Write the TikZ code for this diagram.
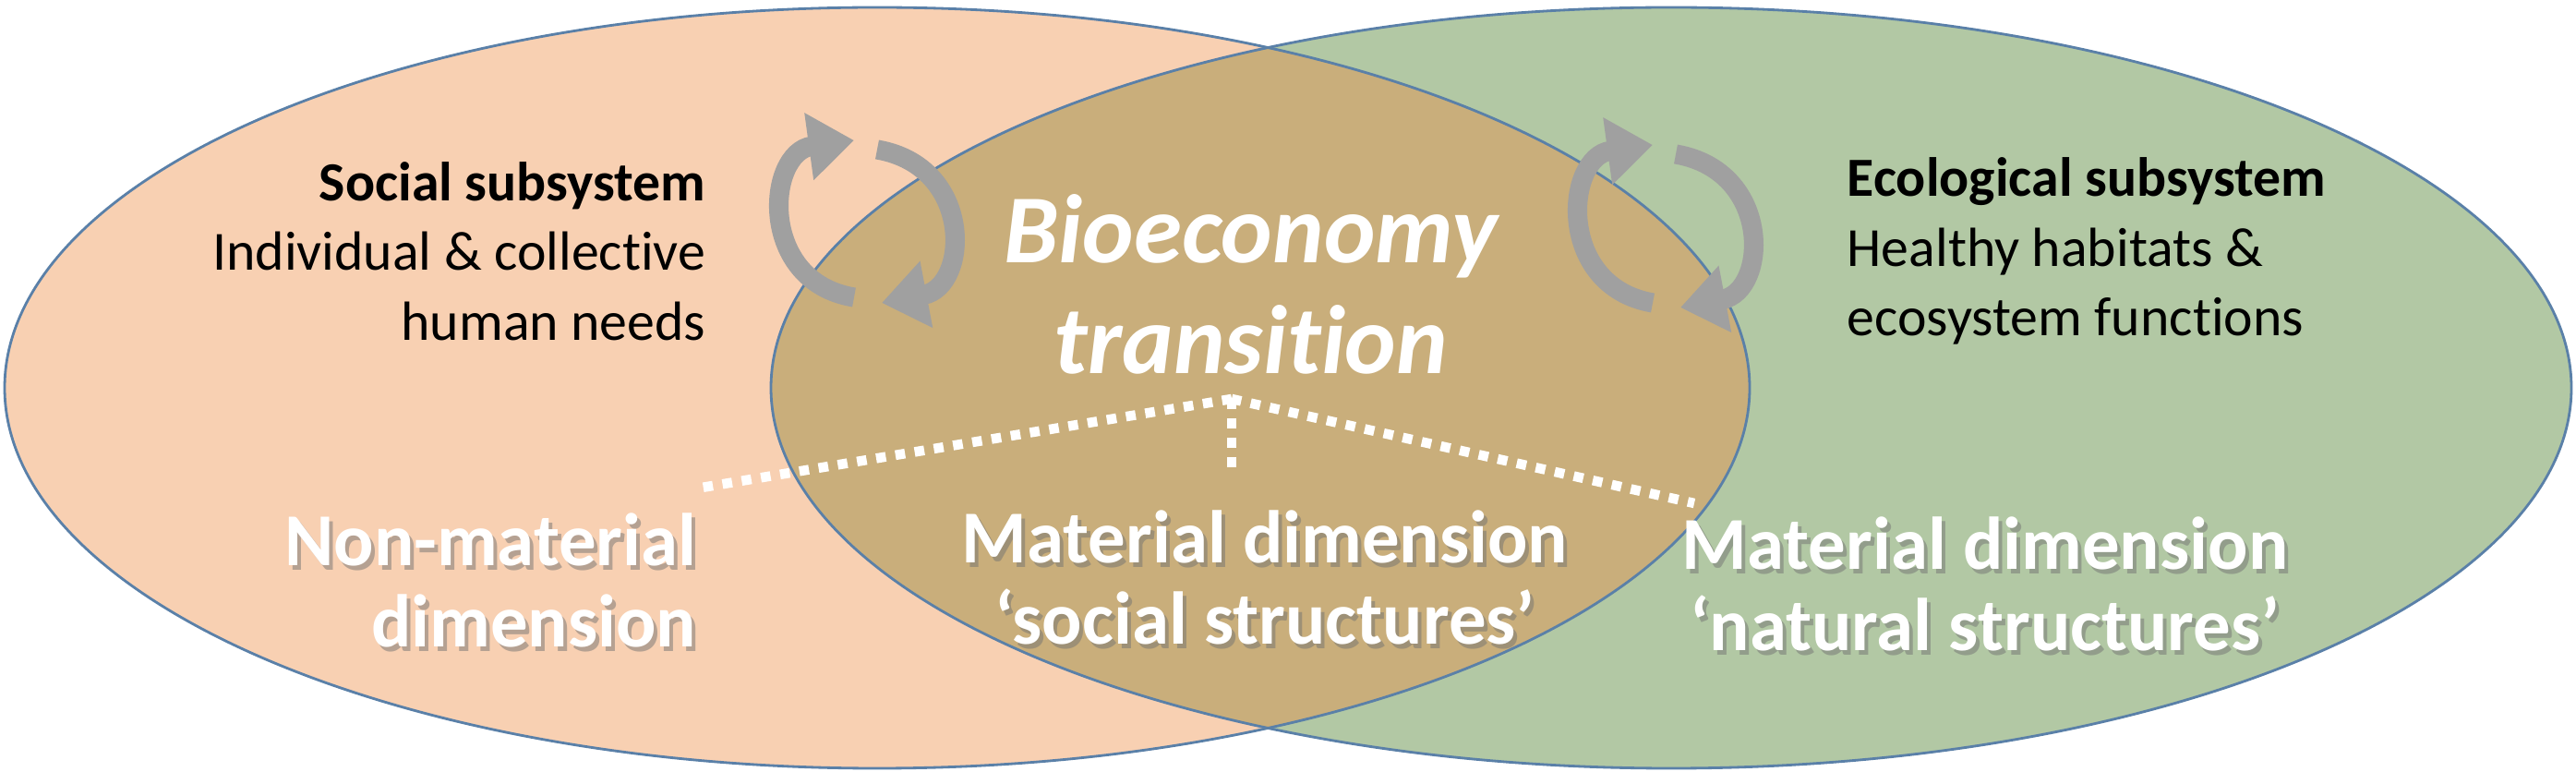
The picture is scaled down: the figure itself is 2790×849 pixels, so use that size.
\documentclass[tikz,border=0pt]{standalone}
\usepackage{fontspec}
\setmainfont{Carlito}[Ligatures=NoCommon]
\usetikzlibrary{arrows.meta}
\definecolor{lfill}{HTML}{F8D0B2}
\definecolor{rfill}{HTML}{B2C8A4}
\definecolor{mfill}{HTML}{C9AE7B}
\definecolor{edge}{HTML}{5A80A8}
\definecolor{arr}{HTML}{A0A0A0}
\tikzset{
  blk/.style={font=\fontsize{17}{21.5}\selectfont, text=black, inner sep=0pt},
  wht/.style={font=\fontsize{23}{25}\selectfont\bfseries, text=white, inner sep=0pt, align=center},
  shd/.style={font=\fontsize{23}{25}\selectfont\bfseries, text=black!55, opacity=0.5, inner sep=0pt, align=center},
  dots/.style={white, line width=3pt, dash pattern=on 3pt off 3pt},
  cyc/.style={arr, line width=6pt, -{Triangle[length=14pt,width=20pt]}},
}
\begin{document}
\begin{tikzpicture}[x=0.01cm,y=-0.01cm]
\useasboundingbox (0,0) rectangle (2790,849);
\fill[lfill] (950,420) ellipse [x radius=945, y radius=412];
\fill[rfill] (1810,420) ellipse [x radius=975, y radius=412];
\begin{scope}
\clip (950,420) ellipse [x radius=945, y radius=412];
\fill[mfill] (1810,420) ellipse [x radius=975, y radius=412];
\end{scope}
\draw[edge, line width=0.8pt] (950,420) ellipse [x radius=945, y radius=412];
\draw[edge, line width=0.8pt] (1810,420) ellipse [x radius=975, y radius=412];
% cycle arrows
\coordinate (c1a) at (925,322); \coordinate (c1b) at (925,152);
\coordinate (c1c) at (950,162); \coordinate (c1d) at (955,328);
\draw[cyc] (c1a) .. controls (820,305) and (830,165) .. (c1b);
\draw[cyc] (c1c) .. controls (1055,180) and (1050,310) .. (c1d);
\coordinate (c2a) at (1790,328); \coordinate (c2b) at (1790,157);
\coordinate (c2c) at (1815,167); \coordinate (c2d) at (1820,333);
\draw[cyc] (c2a) .. controls (1685,310) and (1695,170) .. (c2b);
\draw[cyc] (c2c) .. controls (1920,185) and (1915,315) .. (c2d);
% texts
\node[blk, anchor=east, align=right] (soc) at (765,272) {\textbf{Social subsystem}\\Individual \& collective\\human needs};
\node[blk, anchor=west, align=left] (eco) at (2000,272) {\textbf{Ecological subsystem}\\Healthy habitats \&\\ecosystem functions};
\node[inner sep=0pt, text=white, align=center, font=\fontsize{30}{34}\selectfont\bfseries\itshape] (bio) at (1355,308) {Bioeconomy\\transition};
\coordinate (apex) at (1334,432);
\coordinate (lend) at (760,528);
\coordinate (rend) at (1835,545);
\coordinate (dend) at (1334,510);
\draw[dots] (apex) -- (lend);
\draw[dots] (apex) -- (rend);
\draw[dots] (apex) -- (dend);
\node[shd, align=right, anchor=east] (nms) at (759,633) {Non-material\\dimension};
\node[shd] (mss) at (1374,630) {Material dimension\\‘social structures’};
\node[shd] (mns) at (2154,637) {Material dimension\\‘natural structures’};
\node[wht, align=right, anchor=east] (nm) at (755,628) {Non-material\\dimension};
\node[wht] (ms) at (1370,625) {Material dimension\\‘social structures’};
\node[wht] (mn) at (2150,632) {Material dimension\\‘natural structures’};
\end{tikzpicture}
\end{document}
